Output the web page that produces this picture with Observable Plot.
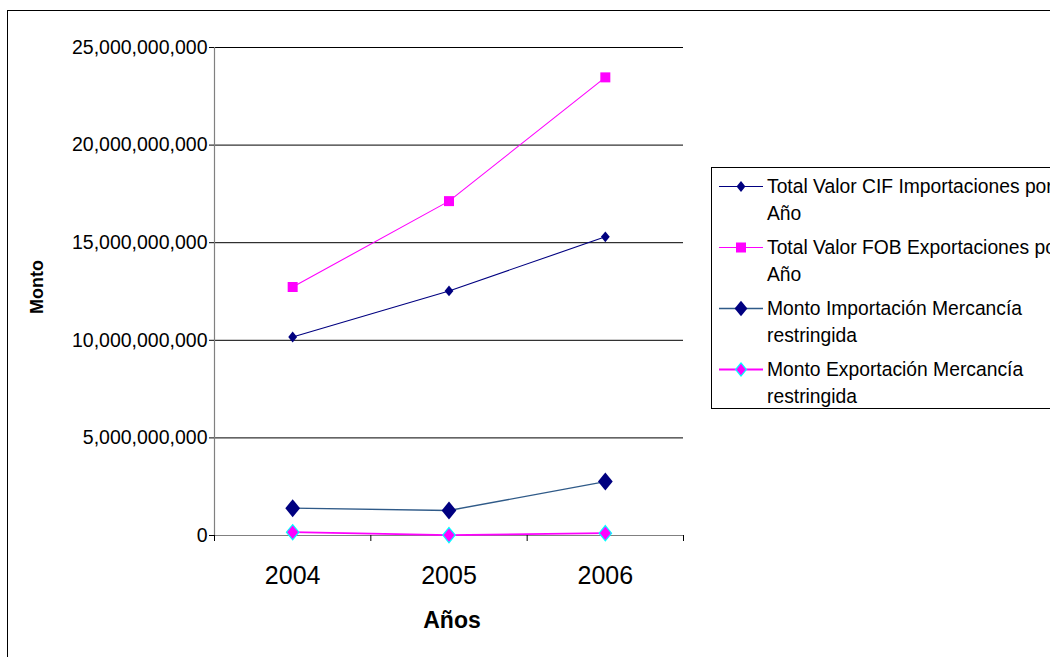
<!DOCTYPE html>
<html>
<head>
<meta charset="utf-8">
<script src="https://cdn.jsdelivr.net/npm/d3@7"></script>
<script src="https://cdn.jsdelivr.net/npm/@observablehq/plot@0.6"></script>
<style>
  html, body { margin: 0; padding: 0; }
  body { width: 1050px; height: 657px; overflow: hidden; position: relative; background: #fff;
         font-family: "Liberation Sans", Arial, sans-serif; }
  #chart { position: absolute; left: 0; top: 0; }
  #frame { position: absolute; left: 7px; top: 10px; width: 1100px; height: 700px; border: 1px solid #000; pointer-events: none; }
  #ylab { position: absolute; left: 37px; top: 287px; transform: translate(-50%, -50%) rotate(-90deg);
          font-weight: bold; font-size: 18px; white-space: nowrap; }
  #xlab { position: absolute; left: 452px; top: 620px; transform: translate(-50%, -50%);
          font-weight: bold; font-size: 23px; white-space: nowrap; }
  #legend { position: absolute; left: 711px; top: 167px; width: 420px; height: 242px; border: 1px solid #000;
            background: #fff; box-sizing: border-box; padding-top: 5px; }
  .entry { position: relative; height: 61px; }
  .entry svg { position: absolute; left: 7px; top: 0; }
  .entry .txt { position: absolute; left: 55px; top: 0; font-size: 19.3px; line-height: 27px; white-space: nowrap; color: #000; }
  g[aria-label="y-axis tick label"] text { font-size: 19.5px; }
</style>
</head>
<body>
<div id="chart"></div>
<div id="ylab">Monto</div>
<div id="xlab">Años</div>
<div id="legend"></div>
<div id="frame"></div>
<script>
// ---- data ----
const years = [2004, 2005, 2006];
const cifImportaciones = [10.17e9, 12.53e9, 15.30e9];
const fobExportaciones = [12.73e9, 17.13e9, 23.47e9];
const montoImportacion = [1.40e9, 1.28e9, 2.76e9];
const montoExportacion = [0.17e9, 0.02e9, 0.12e9];
const seriesNames = [
  "Total Valor CIF Importaciones por Año",
  "Total Valor FOB Exportaciones por Año",
  "Monto Importación Mercancía restringida",
  "Monto Exportación Mercancía restringida"
];
const legendLines = [
  ["Total Valor CIF Importaciones por", "Año"],
  ["Total Valor FOB Exportaciones por", "Año"],
  ["Monto Importación Mercancía", "restringida"],
  ["Monto Exportación Mercancía", "restringida"]
];
const yTicks = [0, 5e9, 10e9, 15e9, 20e9, 25e9];
const categoryEdges = [2003.5, 2004.5, 2005.5, 2006.5];

// ---- styles ----
const diamond = {
  draw(ctx, size) {
    const r = Math.sqrt(size / Math.PI);
    const w = r * 0.82;
    ctx.moveTo(0, -r); ctx.lineTo(w, 0); ctx.lineTo(0, r); ctx.lineTo(-w, 0); ctx.closePath();
  }
};
const square = {
  draw(ctx, size) {
    const r = Math.sqrt(size / Math.PI);
    ctx.moveTo(-r, -r); ctx.lineTo(r, -r); ctx.lineTo(r, r); ctx.lineTo(-r, r); ctx.closePath();
  }
};
const seriesStyle = [
  {values: cifImportaciones, line: "#000080", lineWidth: 1.1, symbol: diamond, r: 5.4, fill: "#000080", stroke: "none", sw: 0},
  {values: fobExportaciones, line: "#ff00ff", lineWidth: 1.1, symbol: square, r: 5, fill: "#ff00ff", stroke: "none", sw: 0},
  {values: montoImportacion, line: "#2f5a88", lineWidth: 1.3, symbol: diamond, r: 9, fill: "#000080", stroke: "none", sw: 0},
  {values: montoExportacion, line: "#ff00ff", lineWidth: 1.8, symbol: diamond, r: 7.6, fill: "#ff00ff", stroke: "#00ffff", sw: 1.2}
];

const marks = [
  Plot.ruleY(yTicks.filter(d => d > 0), {stroke: "#000", strokeWidth: 1}),
  Plot.ruleX([categoryEdges[0]], {stroke: "#808080", strokeWidth: 1.2}),
  Plot.ruleY([0], {stroke: "#808080", strokeWidth: 1.2}),
  Plot.axisY({ticks: yTicks, tickFormat: d3.format(","), tickSize: 5, tickPadding: 2, fontSize: 19.5, label: null, stroke: "#000"}),
  Plot.axisX({ticks: categoryEdges, tickFormat: () => "", tickSize: 6, label: null, stroke: "#000"}),
  Plot.text(years, {x: d => d, y: () => 0, dy: 40, text: d => String(d), fontSize: 25, fill: "#000"})
];
seriesStyle.forEach((s, i) => {
  const rows = years.map((y, j) => ({year: y, value: s.values[j], series: seriesNames[i]}));
  marks.push(Plot.line(rows, {x: "year", y: "value", stroke: s.line, strokeWidth: s.lineWidth}));
});
seriesStyle.forEach((s, i) => {
  const rows = years.map((y, j) => ({year: y, value: s.values[j], series: seriesNames[i]}));
  marks.push(Plot.dot(rows, {x: "year", y: "value", symbol: s.symbol, r: s.r, fill: s.fill, stroke: s.stroke, strokeWidth: s.sw}));
});

const chart = Plot.plot({
  width: 1050,
  height: 657,
  marginLeft: 214,
  marginRight: 367,
  marginTop: 47,
  marginBottom: 122,
  style: {fontFamily: "Liberation Sans, Arial, sans-serif", fontSize: "19px", background: "transparent", color: "#000"},
  x: {type: "linear", domain: [2003.5, 2006.5]},
  y: {type: "linear", domain: [0, 25e9]},
  marks
});
document.getElementById("chart").appendChild(chart);

// ---- legend ----
const legend = document.getElementById("legend");
seriesStyle.forEach((s, i) => {
  const entry = document.createElement("div");
  entry.className = "entry";
  const ns = "http://www.w3.org/2000/svg";
  const svg = document.createElementNS(ns, "svg");
  svg.setAttribute("width", 46); svg.setAttribute("height", 27);
  const ln = document.createElementNS(ns, "line");
  ln.setAttribute("x1", 0); ln.setAttribute("x2", 44); ln.setAttribute("y1", 13.5); ln.setAttribute("y2", 13.5);
  ln.setAttribute("stroke", s.line); ln.setAttribute("stroke-width", s.lineWidth);
  svg.appendChild(ln);
  const path = document.createElementNS(ns, "path");
  const p = d3.path();
  s.symbol.draw(p, Math.PI * s.r * s.r * (i >= 2 ? 0.75 : 1));
  path.setAttribute("d", p.toString());
  path.setAttribute("transform", "translate(22,13.5)");
  path.setAttribute("fill", s.fill);
  path.setAttribute("stroke", s.stroke);
  path.setAttribute("stroke-width", s.sw);
  svg.appendChild(path);
  entry.appendChild(svg);
  const txt = document.createElement("div");
  txt.className = "txt";
  txt.innerHTML = legendLines[i].map(t => t.replace(/&/g, "&amp;")).join("<br>");
  entry.appendChild(txt);
  legend.appendChild(entry);
});
</script>
</body>
</html>
